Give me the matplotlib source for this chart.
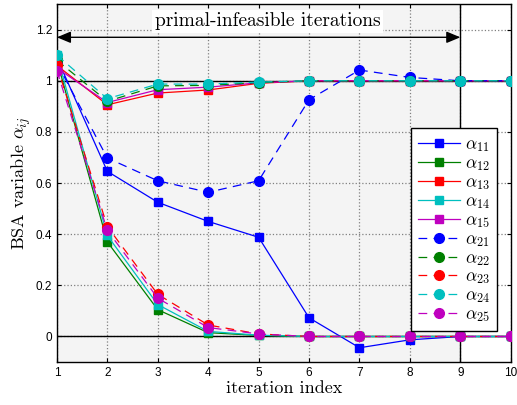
import matplotlib
matplotlib.use("Agg")
import matplotlib.pyplot as plt

plt.rcParams['mathtext.fontset'] = 'cm'

iters = [1, 2, 3, 4, 5, 6, 7, 8, 9, 10]

a11 = [1.09, 0.646, 0.525, 0.45, 0.388, 0.073, -0.044, -0.013, 0.0, 0.0]
a12 = [1.08, 0.37, 0.105, 0.015, 0.004, 0.0, 0.0, 0.0, 0.0, 0.0]
a13 = [1.06, 0.906, 0.952, 0.964, 0.99, 1.0, 1.0, 1.0, 1.0, 1.0]
a14 = [1.10, 0.395, 0.125, 0.02, 0.005, 0.0, 0.0, 0.0, 0.0, 0.0]
a15 = [1.05, 0.915, 0.965, 0.975, 0.992, 1.0, 1.0, 1.0, 1.0, 1.0]
a21 = [1.07, 0.698, 0.609, 0.564, 0.609, 0.926, 1.042, 1.013, 1.0, 1.0]
a22 = [1.08, 0.92, 0.98, 0.982, 0.993, 1.0, 1.0, 1.0, 1.0, 1.0]
a23 = [1.06, 0.43, 0.165, 0.045, 0.01, 0.0, 0.0, 0.0, 0.0, 0.0]
a24 = [1.10, 0.93, 0.987, 0.987, 0.995, 1.0, 1.0, 1.0, 1.0, 1.0]
a25 = [1.04, 0.415, 0.15, 0.035, 0.01, 0.0, 0.0, 0.0, 0.0, 0.0]

series = [a11, a12, a13, a14, a15, a21, a22, a23, a24, a25]
labels = [r'$\alpha_{11}$', r'$\alpha_{12}$', r'$\alpha_{13}$', r'$\alpha_{14}$', r'$\alpha_{15}$',
          r'$\alpha_{21}$', r'$\alpha_{22}$', r'$\alpha_{23}$', r'$\alpha_{24}$', r'$\alpha_{25}$']
colors = ['#0000ff', '#008000', '#ff0000', '#00bfbf', '#bf00bf'] * 2
styles = ['-'] * 5 + ['--'] * 5
markers = ['s'] * 5 + ['o'] * 5

fig = plt.figure(figsize=(5.17, 4.05), dpi=100)
ax = fig.add_axes([0.110, 0.106, 0.878, 0.884])

ax.axvspan(1, 9, color='#f4f4f4', zorder=0)
ax.set_xlim(1, 10)
ax.set_ylim(-0.1, 1.3)
ax.set_xticks(range(1, 11))
ax.set_yticks([0, 0.2, 0.4, 0.6, 0.8, 1.0, 1.2])
ax.set_yticklabels(['0', '0.2', '0.4', '0.6', '0.8', '1', '1.2'])
ax.grid(True, linestyle=':', color='#808080', linewidth=0.9)
ax.set_axisbelow(True)
ax.tick_params(direction='in', top=True, right=True, labelsize=8.5, length=3)
for lbl in ax.get_xticklabels() + ax.get_yticklabels():
    lbl.set_family('Liberation Sans')

ax.axhline(0, color='black', lw=1, zorder=1)
ax.axhline(1, color='black', lw=1, zorder=1)
ax.axvline(9, color='black', lw=1, zorder=1)

for s, lab, c, ls, m in zip(series, labels, colors, styles, markers):
    line, = ax.plot(iters, s, linestyle=ls, color=c, marker=m, label=lab, lw=0.9,
                    markersize=6 if m == 's' else 7, zorder=3)
    if ls == '--':
        line.set_dashes((7, 5))

ax.annotate('', xy=(1, 1.17), xytext=(9, 1.17),
            arrowprops=dict(arrowstyle='<|-|>,head_length=0.6,head_width=0.25',
                            color='black', lw=1, mutation_scale=14,
                            shrinkA=0, shrinkB=0))
ax.text(5.18, 1.232, 'primal-infeasible iterations', ha='center', va='center',
        fontsize=14, family='cmr10',
        bbox=dict(facecolor='white', edgecolor='none', pad=2))

ax.set_xlabel('iteration index', fontsize=13, family='cmr10', labelpad=1)
ax.set_ylabel(r'BSA variable $\alpha_{ij}$', fontsize=13, family='cmr10', labelpad=2)

for sp in ax.spines.values():
    sp.set_linewidth(1)

leg = ax.legend(loc='upper right', bbox_to_anchor=(0.969, 0.654), fontsize=12.5,
                fancybox=False, edgecolor='black', framealpha=1, handlelength=2.4,
                labelspacing=0.0, borderpad=0.4, handletextpad=0.3, borderaxespad=0)
leg.get_frame().set_linewidth(1)

fig.savefig('out.png', dpi=100)
